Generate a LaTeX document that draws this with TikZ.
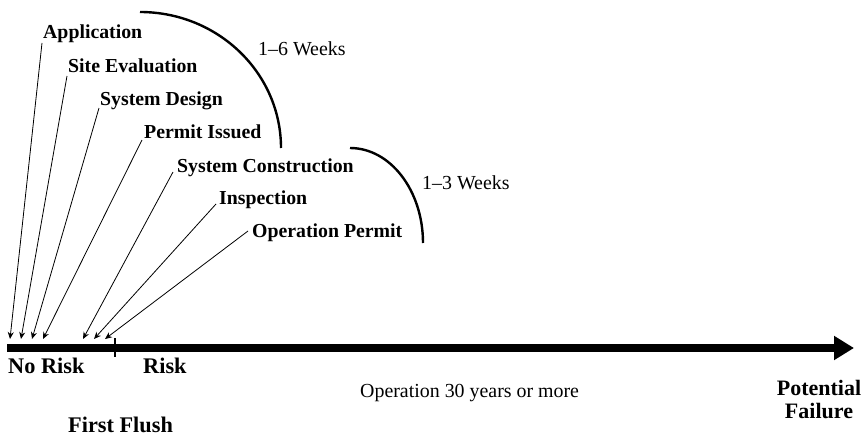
\documentclass[tikz,border=0pt]{standalone}
\usepackage{fontspec}
\setmainfont{Liberation Serif}
\usetikzlibrary{arrows.meta}
\begin{document}
\begin{tikzpicture}[x=1pt,y=-1pt,
  lbl/.style={font=\bfseries\fontsize{19.8}{22}\selectfont, anchor=base west, inner sep=0pt},
  biglbl/.style={font=\bfseries\fontsize{22.3}{23}\selectfont, anchor=base west, inner sep=0pt},
  note/.style={font=\fontsize{19.9}{22}\selectfont, anchor=base west, inner sep=0pt},
  pointer/.style={line width=0.8pt, -{Stealth[length=7pt,width=6pt]}},
  span/.style={line width=2.4pt},
]
\useasboundingbox (0,0) rectangle (864,436);
% main timeline
\coordinate (t0) at (7,348);
\coordinate (t1) at (854,348);
\draw[line width=8pt, -{Triangle[length=20pt,width=23pt]}] (t0) -- (t1);
\coordinate (tickA) at (115,338);
\coordinate (tickB) at (115,357);
\draw[line width=2pt] (tickA) -- (tickB);
% labels
\node[lbl] (app) at (43,38) {Application};
\node[lbl] (site) at (68,72) {Site Evaluation};
\node[lbl] (design) at (100,105) {System Design};
\node[lbl] (permit) at (144,138) {Permit Issued};
\node[lbl] (constr) at (177,172) {System Construction};
\node[lbl] (insp) at (219,204) {Inspection};
\node[lbl] (oper) at (252,237) {Operation Permit};
% arrow tips on bar
\coordinate (p1) at (10,339);
\coordinate (p2) at (21,339);
\coordinate (p3) at (32,339);
\coordinate (p4) at (43,339);
\coordinate (p5) at (83,339);
\coordinate (p6) at (94,339);
\coordinate (p7) at (105,339);
\draw[pointer] ([shift={(-1,5)}]app.base west) -- (p1);
\draw[pointer] ([shift={(-1,4)}]site.base west) -- (p2);
\draw[pointer] ([shift={(-1,3)}]design.base west) -- (p3);
\draw[pointer] ([shift={(-2,2)}]permit.base west) -- (p4);
\draw[pointer] ([shift={(-4,0)}]constr.base west) -- (p5);
\draw[pointer] ([shift={(-3,0)}]insp.base west) -- (p6);
\draw[pointer] ([shift={(-4,-6)}]oper.base west) -- (p7);
% duration arcs
\coordinate (a1s) at (140,12);
\coordinate (a2s) at (350,148);
\draw[span] (a1s) arc[start angle=90, end angle=0, x radius=141, y radius=-136];
\draw[span] (a2s) arc[start angle=90, end angle=0, x radius=73, y radius=-95];
\node[note] (w6) at (258,56) {1–6 Weeks};
\node[note] (w3) at (422,189) {1–3 Weeks};
% bottom labels
\node[biglbl] (norisk) at (8,373) {No Risk};
\node[biglbl] (risk) at (143,373) {Risk};
\node[biglbl] (flush) at (68,432) {First Flush};
\node[note] (op) at (360,397) {Operation 30 years or more};
\node[font=\bfseries\fontsize{22}{23}\selectfont, align=center, inner sep=0pt, anchor=base] (fail) at (819,418) {Potential\\Failure};
\end{tikzpicture}
\end{document}
